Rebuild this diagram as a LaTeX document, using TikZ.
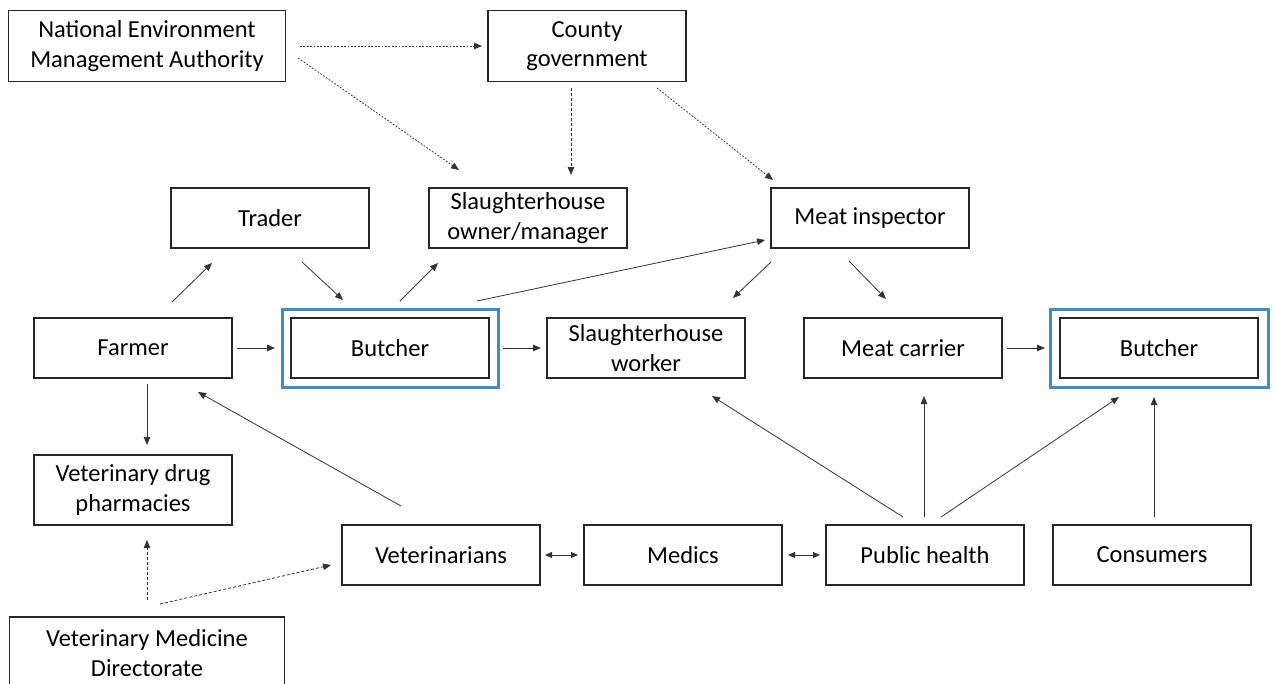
\documentclass[tikz,border=0pt]{standalone}
\usepackage{fontspec}
\setmainfont{Carlito}
\usetikzlibrary{calc,arrows.meta}
\definecolor{hlblue}{RGB}{62,140,206}
\tikzset{
  box/.style={draw=black!85, line width=1.2pt, minimum width=198pt, minimum height=60pt, align=center, inner sep=2pt, font=\fontsize{24.5}{29.5}\selectfont},
  con/.style={draw=black!80, line width=0.8pt, -{Triangle[length=8pt,width=6.5pt]}},
  bicon/.style={draw=black!80, line width=0.8pt, {Triangle[length=7pt,width=6pt]}-{Triangle[length=7pt,width=6pt]}},
  dotcon/.style={con, dash pattern=on 1.8pt off 1.6pt},
  dashcon/.style={con, dash pattern=on 3pt off 2pt},
}
\begin{document}
\begin{tikzpicture}[x=1pt,y=-1pt]
\useasboundingbox (0,0) rectangle (1276,683);
\node[box, minimum width=277pt, minimum height=71pt] (nema) at (147,46) {National Environment\\Management Authority};
\node[box, minimum height=71pt] (cg) at (587,46) {County\\government};
\node[box] (trader) at (270,218) {Trader};
\node[box] (sho) at (528,218) {Slaughterhouse\\owner/manager};
\node[box] (mi) at (870,218) {Meat inspector};
\node[box] (farmer) at (133,348) {Farmer};
\node[box] (b1) at (390,348) {Butcher};
\node[box] (shw) at (646,348) {Slaughterhouse\\worker};
\node[box] (mc) at (903,348) {Meat carrier};
\node[box] (b2) at (1159,348) {Butcher};
\node[box, minimum height=70pt] (vdp) at (133,490) {Veterinary drug\\pharmacies};
\node[box] (vet) at (441,555) {Veterinarians};
\node[box] (med) at (683,555) {Medics};
\node[box] (ph) at (925,555) {Public health};
\node[box] (cons) at (1152,555) {Consumers};
\node[box, minimum width=275pt, minimum height=72pt] (vmd) at (147,653) {Veterinary Medicine\\Directorate};
% blue highlight frames
\node[draw=hlblue, line width=3pt, minimum width=216pt, minimum height=78pt] (b1f) at (b1) {};
\node[draw=hlblue, line width=3pt, minimum width=218pt, minimum height=78pt] (b2f) at (b2) {};
% dotted / dashed regulatory links
\draw[dotcon] ($(nema)+(153,0)$) -- ($(cg)+(-105,0)$);
\draw[dotcon] ($(nema)+(151,12)$) -- ($(sho)+(-69,-48)$);
\draw[dashcon] ($(cg)+(-16,42)$) -- ($(sho)+(43,-43)$);
\draw[dotcon] ($(cg)+(70,42)$) -- ($(mi)+(-97,-38)$);
\draw[dashcon] ($(vmd)+(0,-53)$) -- ($(vdp)+(14,50)$);
\draw[dashcon] ($(vmd)+(13,-49)$) -- ($(vet)+(-110,10)$);
% solid links
\draw[con] ($(farmer)+(39,-46)$) -- ($(trader)+(-58,45)$);
\draw[con] ($(trader)+(32,44)$) -- ($(b1)+(-47,-48)$);
\draw[con] ($(b1)+(10,-47)$) -- ($(sho)+(-90,45)$);
\draw[con] ($(b1)+(87,-47)$) -- ($(mi)+(-105,22)$);
\draw[con] ($(farmer)+(104,0)$) -- ($(b1)+(-115,0)$);
\draw[con] ($(b1)+(113,0)$) -- ($(shw)+(-105,0)$);
\draw[con] ($(mi)+(-99,44)$) -- ($(shw)+(87,-50)$);
\draw[con] ($(mi)+(-21,43)$) -- ($(mc)+(-17,-49)$);
\draw[con] ($(mc)+(104,0)$) -- ($(b2)+(-114,0)$);
\draw[con] ($(farmer)+(14,36)$) -- ($(vdp)+(14,-45)$);
\draw[con] ($(vet)+(-40,-49)$) -- ($(farmer)+(65,44)$);
\draw[bicon] ($(vet)+(104,0)$) -- ($(med)+(-105,0)$);
\draw[bicon] ($(med)+(105,0)$) -- ($(ph)+(-105,0)$);
\draw[con] ($(ph)+(-22,-38)$) -- ($(shw)+(66,48)$);
\draw[con] ($(ph)+(-1,-38)$) -- ($(mc)+(21,48)$);
\draw[con] ($(ph)+(16,-38)$) -- ($(b2)+(-40,49)$);
\draw[con] ($(cons)+(2,-38)$) -- ($(b2)+(-5,49)$);
\end{tikzpicture}
\end{document}
